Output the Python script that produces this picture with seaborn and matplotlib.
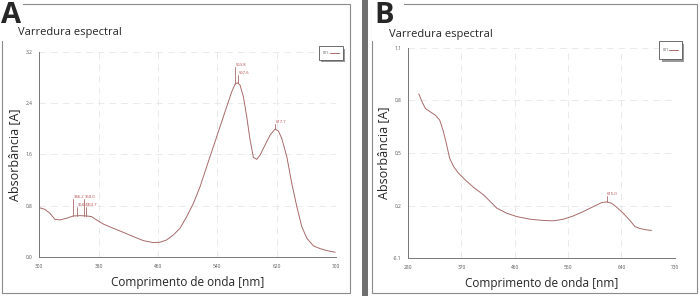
import matplotlib
matplotlib.use("Agg")
import matplotlib.pyplot as plt
import seaborn as sns
import numpy as np
import pandas as pd
from matplotlib.patches import Rectangle

# panel A spectrum
wl_a = [300.0, 307.6, 314.4, 321.1, 327.9, 336.9, 345.9, 354.9, 363.9, 370.6, 377.3, 386.3,
        399.8, 413.3, 426.8, 440.3, 453.8, 462.8, 471.8, 480.8, 489.8, 498.8, 507.8, 516.8,
        525.7, 534.7, 543.7, 552.7, 559.5, 564.0, 567.1, 570.7, 575.2, 579.7, 584.2, 588.7,
        593.2, 597.7, 604.4, 611.2, 617.9, 622.4, 626.9, 633.7, 640.4, 647.2, 653.9, 660.7,
        669.7, 678.6, 687.6, 698.9]
abs_a = [0.769, 0.743, 0.681, 0.587, 0.577, 0.603, 0.639, 0.644, 0.639, 0.629, 0.577, 0.514,
         0.447, 0.384, 0.317, 0.255, 0.223, 0.229, 0.265, 0.343, 0.447, 0.629, 0.836, 1.096,
         1.408, 1.720, 2.031, 2.343, 2.577, 2.696, 2.717, 2.681, 2.499, 2.187, 1.823, 1.553,
         1.522, 1.590, 1.746, 1.901, 1.995, 1.964, 1.849, 1.564, 1.148, 0.784, 0.473, 0.291,
         0.171, 0.130, 0.099, 0.073]
peaks_a = [346.2, 350.4, 360.0, 363.7, 563.8, 567.6, 617.7]
peak_top_a = [0.91, 0.78, 0.91, 0.78, 2.97, 2.84, 2.08]
xticks_a = [300, 380, 460, 540, 620, 700]
yticks_a = [0.0, 0.8, 1.6, 2.4, 3.2]

# panel B spectrum
wl_b = [298.0, 303.6, 309.2, 317.6, 326.0, 333.3, 338.9, 344.5, 350.1, 356.9, 365.3, 376.5,
        390.5, 407.4, 418.6, 429.8, 446.6, 463.5, 485.9, 508.4, 525.2, 542.0, 558.9, 575.7,
        592.5, 606.6, 615.0, 623.4, 631.8, 643.0, 654.3, 662.7, 671.1, 682.3, 690.7]
abs_b = [0.838, 0.792, 0.754, 0.735, 0.716, 0.688, 0.631, 0.555, 0.470, 0.422, 0.384, 0.346,
         0.304, 0.261, 0.223, 0.185, 0.156, 0.137, 0.122, 0.115, 0.113, 0.122, 0.141, 0.166,
         0.194, 0.217, 0.221, 0.213, 0.191, 0.156, 0.115, 0.080, 0.069, 0.061, 0.058]
peaks_b = [615.0]
peak_top_b = [0.255]
xticks_b = [280, 370, 460, 550, 640, 730]
yticks_b = [-0.1, 0.2, 0.5, 0.8, 1.1]

sns.set_style("white")
plt.rcParams['font.family'] = ['Open Sans', 'DejaVu Sans']

LINE = "#a86a6a"
fig = plt.figure(figsize=(7, 2.96), dpi=100)

# panel frames and separator
fig.add_artist(Rectangle((0.003, 0.01), 0.497, 0.975, transform=fig.transFigure,
                         fill=False, ec="#8a8a8a", lw=0.8))
fig.add_artist(Rectangle((0.531, 0.01), 0.465, 0.975, transform=fig.transFigure,
                         fill=False, ec="#8a8a8a", lw=0.8))
fig.add_artist(Rectangle((0.517, 0.0), 0.009, 1.0, transform=fig.transFigure,
                         fc="#707070", ec="none"))
fig.add_artist(Rectangle((0.0, 0.86), 0.033, 0.14, transform=fig.transFigure,
                         fc="white", ec="none"))
fig.add_artist(Rectangle((0.532, 0.86), 0.045, 0.14, transform=fig.transFigure,
                         fc="white", ec="none"))
fig.text(0.002, 0.995, "A", fontsize=21, fontweight="bold", va="top", ha="left")
fig.text(0.535, 0.995, "B", fontsize=21, fontweight="bold", va="top", ha="left")


def panel(rect, wl, ab, peaks, tops, xt, yt, ylab_x, legend_rect):
    ax = fig.add_axes(rect)
    df = pd.DataFrame({"nm": wl, "A": ab})
    sns.lineplot(data=df, x="nm", y="A", ax=ax, color=LINE, lw=0.7)
    for p, t in zip(peaks, tops):
        y0 = np.interp(p, wl, ab)
        ax.plot([p, p], [y0, t], color=LINE, lw=0.6)
        ax.text(p + 1, t, "%.1f" % p, fontsize=3, color="#b04040", va="bottom", ha="left")
    ax.set_xlim(xt[0], xt[-1])
    ax.set_ylim(yt[0], yt[-1])
    ax.set_xticks(xt)
    ax.set_yticks(yt)
    ax.set_xticklabels(["%d" % v for v in xt], fontsize=3.5, color="#555555")
    ax.set_yticklabels(["%.1f" % v for v in yt], fontsize=3.5, color="#555555")
    ax.tick_params(length=3, width=0.5, color="#777777", pad=2)
    ax.grid(True, color="#e6e6e6", lw=0.6, ls=(0, (8, 6)))
    for s in ["top", "right"]:
        ax.spines[s].set_visible(False)
    for s in ["left", "bottom"]:
        ax.spines[s].set_color("#777777")
        ax.spines[s].set_linewidth(0.7)
    ax.set_xlabel("Comprimento de onda [nm]", fontsize=8.5, labelpad=5)
    ax.set_ylabel("Absorbância [A]", fontsize=9)
    ax.yaxis.set_label_coords(ylab_x, 0.5)
    # legend box
    lx, ly, lw_, lh = legend_rect
    fig.add_artist(Rectangle((lx + 0.003, ly - 0.008), lw_, lh, transform=fig.transFigure,
                             fc="#999999", ec="none"))
    fig.add_artist(Rectangle((lx, ly), lw_, lh, transform=fig.transFigure,
                             fc="white", ec="#555555", lw=0.6))
    fig.add_artist(plt.Line2D([lx + lw_ * 0.45, lx + lw_ * 0.85], [ly + lh * 0.5] * 2,
                              transform=fig.transFigure, color=LINE, lw=0.7))
    fig.text(lx + lw_ * 0.15, ly + lh * 0.5, "001", fontsize=2.5, va="center", color="#444444")
    return ax


ax_a = panel([0.056, 0.132, 0.424, 0.693], wl_a, abs_a, peaks_a, peak_top_a,
             xticks_a, yticks_a, -0.06, (0.456, 0.797, 0.034, 0.047))
ax_b = panel([0.583, 0.128, 0.381, 0.71], wl_b, abs_b, peaks_b, peak_top_b,
             xticks_b, yticks_b, -0.068, (0.942, 0.8, 0.032, 0.06))

fig.text(0.026, 0.89, "Varredura espectral", fontsize=8, va="center")
fig.text(0.555, 0.884, "Varredura espectral", fontsize=8, va="center")

fig.savefig("out.png", dpi=100)
